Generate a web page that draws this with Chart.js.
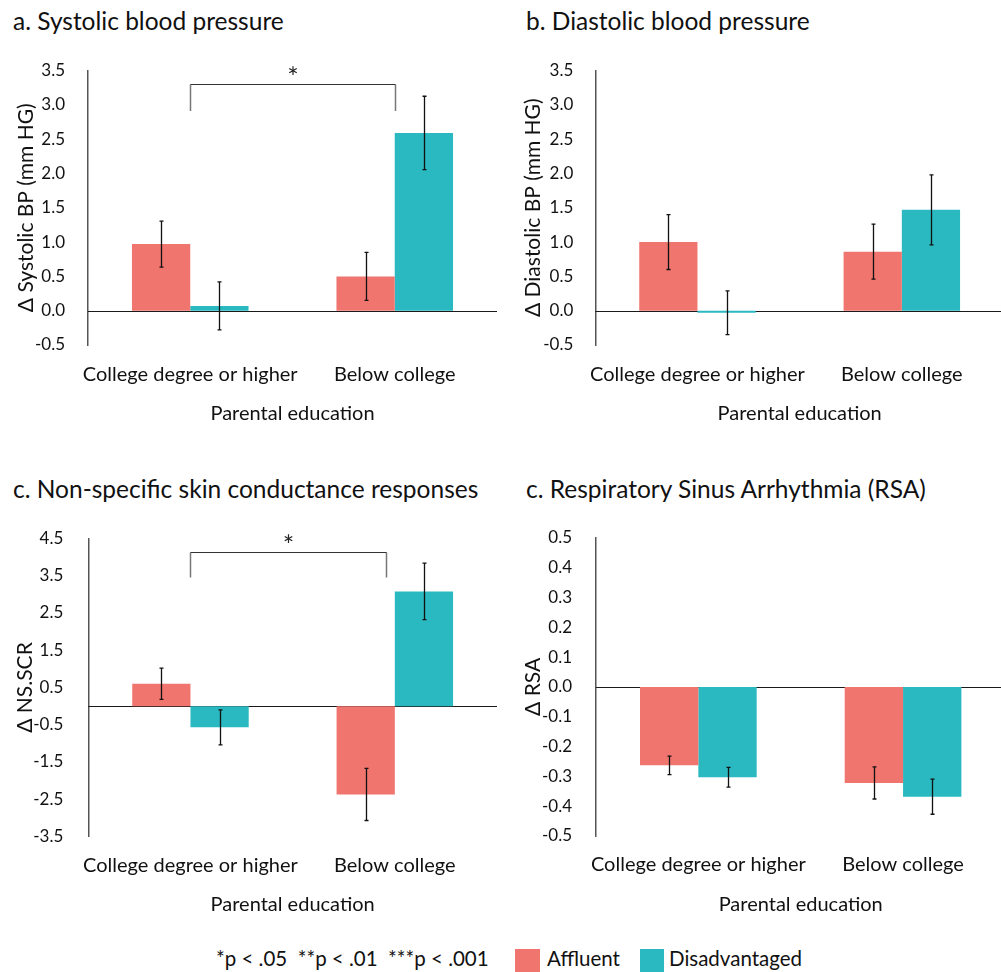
<!DOCTYPE html>
<html>
<head>
<meta charset="utf-8">
<script src="https://cdn.jsdelivr.net/npm/chart.js@4.4.1/dist/chart.umd.min.js"></script>
<style>
  html, body { margin: 0; padding: 0; background: #fff; overflow: hidden; }
  body { width: 1001px; height: 972px; position: relative; font-family: Lato, sans-serif; color: #111; }
  canvas { position: absolute; }
  .title { position: absolute; font-size: 24.5px; line-height: 24px; white-space: nowrap; }
  .leg { position: absolute; font-size: 20.5px; line-height: 20px; white-space: pre; top: 948px; }
  .box { position: absolute; top: 949px; height: 24px; }
</style>
</head>
<body>
<div class="title" style="left:13px; top:9px">a. Systolic blood pressure</div>
<div class="title" style="left:526px; top:9px">b. Diastolic blood pressure</div>
<div class="title" style="left:13px; top:477px">c. Non-specific skin conductance responses</div>
<div class="title" style="left:526px; top:477px">c. Respiratory Sinus Arrhythmia (RSA)</div>

<canvas id="sbp" width="500" height="426" style="left:0; top:0"></canvas>
<canvas id="dbp" width="504" height="426" style="left:500px; top:0"></canvas>
<canvas id="scr" width="500" height="447" style="left:0; top:470px"></canvas>
<canvas id="rsa" width="506" height="447" style="left:500px; top:470px"></canvas>

<div class="leg" style="left:216px">*p &lt; .05  **p &lt; .01  ***p &lt; .001</div>
<div class="box" style="left:515px; width:25px; background:#F0756E"></div>
<div class="leg" style="left:547px">Affluent</div>
<div class="box" style="left:640px; width:24px; background:#2AB9C1"></div>
<div class="leg" style="left:669px">Disadvantaged</div>

<script>
const categories = ['College degree or higher', 'Below college'];
const groups = ['Affluent', 'Disadvantaged'];
const xTitle = 'Parental education';

// a. systolic
const sbpAffluent = [0.97, 0.50];
const sbpAffluentErr = [0.335, 0.35];
const sbpDisadv = [0.07, 2.59];
const sbpDisadvErr = [0.35, 0.535];
const sbpBracket = [0, 1, 3.30, 2.91];   // from cat, to cat, top value, leg end value

// b. diastolic
const dbpAffluent = [1.00, 0.86];
const dbpAffluentErr = [0.40, 0.40];
const dbpDisadv = [-0.03, 1.47];
const dbpDisadvErr = [0.32, 0.51];

// c. NS.SCR
const scrAffluent = [0.60, -2.37];
const scrAffluentErr = [0.42, 0.70];
const scrDisadv = [-0.57, 3.08];
const scrDisadvErr = [0.47, 0.76];
const scrBracket = [0, 0.955, 4.15, 3.45];

// d. RSA
const rsaAffluent = [-0.263, -0.322];
const rsaAffluentErr = [0.031, 0.054];
const rsaDisadv = [-0.303, -0.368];
const rsaDisadvErr = [0.033, 0.059];

const AFF = '#F0756E';
const DIS = '#2AB9C1';
const FONT = 'Lato';

// draws the 0 line across the plot (not always a tick)
const zeroLine = {
  id: 'zeroLine',
  beforeDatasetsDraw(chart) {
    const {ctx, chartArea, scales: {y}} = chart;
    const py = Math.round(y.getPixelForValue(0)) + 0.5;
    ctx.save();
    ctx.strokeStyle = '#1a1a1a';
    ctx.lineWidth = 1;
    ctx.beginPath();
    ctx.moveTo(chartArea.left, py);
    ctx.lineTo(chartArea.right, py);
    ctx.stroke();
    ctx.restore();
  }
};

const errorBars = {
  id: 'errorBars',
  afterDatasetsDraw(chart) {
    const {ctx, scales: {y}} = chart;
    ctx.save();
    ctx.strokeStyle = '#111';
    ctx.lineWidth = 1.3;
    chart.data.datasets.forEach((ds, i) => {
      chart.getDatasetMeta(i).data.forEach((bar, j) => {
        const v = ds.data[j], e = ds.errors[j];
        const top = y.getPixelForValue(v + e), bot = y.getPixelForValue(v - e);
        const x = Math.round(bar.x) + 0.5;
        ctx.beginPath();
        ctx.moveTo(x, top); ctx.lineTo(x, bot);
        ctx.moveTo(x - 2, top); ctx.lineTo(x + 2, top);
        ctx.moveTo(x - 2, bot); ctx.lineTo(x + 2, bot);
        ctx.stroke();
      });
    });
    ctx.restore();
  }
};

const bracket = {
  id: 'bracket',
  afterDraw(chart, args, opts) {
    const b = opts.values;
    if (!b) return;
    const {ctx, scales: {x, y}} = chart;
    const x1 = Math.round(x.getPixelForValue(b[0])) + 0.5;
    const x2 = Math.round(x.getPixelForValue(b[1])) + 0.5;
    const yt = Math.round(y.getPixelForValue(b[2])) + 0.5;
    const yb = y.getPixelForValue(b[3]);
    ctx.save();
    ctx.strokeStyle = '#777';
    ctx.lineWidth = 1.5;
    ctx.beginPath();
    ctx.moveTo(x1, yt); ctx.lineTo(x1, yb);
    ctx.moveTo(x2, yt); ctx.lineTo(x2, yb);
    ctx.stroke();
    ctx.strokeStyle = '#333';
    ctx.lineWidth = 1;
    ctx.beginPath();
    ctx.moveTo(x1, yt); ctx.lineTo(x2, yt);
    ctx.stroke();
    ctx.fillStyle = '#222';
    ctx.font = '27px ' + FONT;
    ctx.textAlign = 'center';
    ctx.textBaseline = 'middle';
    ctx.fillText('*', (x1 + x2) / 2, yt - 6);
    ctx.restore();
  }
};

function makePanel(id, p) {
  return new Chart(document.getElementById(id), {
    type: 'bar',
    data: {
      labels: categories,
      datasets: [
        { label: groups[0], data: p.aff, errors: p.affErr, backgroundColor: AFF,
          categoryPercentage: 0.57, barPercentage: 1.0 },
        { label: groups[1], data: p.dis, errors: p.disErr, backgroundColor: DIS,
          categoryPercentage: 0.57, barPercentage: 1.0 }
      ]
    },
    options: {
      responsive: false,
      animation: false,
      layout: { padding: { top: p.padTop, right: p.padRight, left: 0, bottom: 0 } },
      plugins: {
        legend: { display: false },
        tooltip: { enabled: false },
        bracket: { values: p.bracket || null }
      },
      scales: {
        x: {
          grid: { display: false },
          border: { display: false },
          ticks: { padding: p.xPad, color: '#111', font: { family: FONT, size: 20 },
                   maxRotation: 0, minRotation: 0, autoSkip: false },
          title: { display: true, text: xTitle, color: '#111', padding: 0,
                   font: { family: FONT, size: 20 } },
          afterFit: s => { s.height = p.xHeight; }
        },
        y: {
          min: p.min, max: p.max,
          grid: { display: false },
          border: { display: true, color: '#555', width: 1.5 },
          ticks: {
            stepSize: p.step, padding: p.yPad, color: '#111',
            font: { family: FONT, size: 17 },
            callback: v => (Math.abs(v) < 1e-9 ? 0 : v).toFixed(1)
          },
          title: { display: true, text: p.yTitle, color: '#111',
                   padding: { top: p.yTitlePad, bottom: 0 },
                   font: { family: FONT, size: 21 } },
          afterFit: s => { s.width = p.yWidth; }
        }
      }
    },
    plugins: [zeroLine, errorBars, bracket]
  });
}

makePanel('sbp', {
  aff: sbpAffluent, affErr: sbpAffluentErr, dis: sbpDisadv, disErr: sbpDisadvErr,
  bracket: sbpBracket, min: -0.5, max: 3.5, step: 0.5,
  yTitle: 'Δ Systolic BP (mm HG)',
  padTop: 70.5, padRight: 3, xPad: 10, xHeight: 81, yWidth: 88, yPad: 15, yTitlePad: 13.9
});
makePanel('dbp', {
  aff: dbpAffluent, affErr: dbpAffluentErr, dis: dbpDisadv, disErr: dbpDisadvErr,
  min: -0.5, max: 3.5, step: 0.5,
  yTitle: 'Δ Diastolic BP (mm HG)',
  padTop: 70.5, padRight: 0, xPad: 10, xHeight: 81, yWidth: 95.3, yPad: 14, yTitlePad: 20.9
});
makePanel('scr', {
  aff: scrAffluent, affErr: scrAffluentErr, dis: scrDisadv, disErr: scrDisadvErr,
  bracket: scrBracket, min: -3.5, max: 4.5, step: 1,
  yTitle: 'Δ NS.SCR',
  padTop: 68.5, padRight: 3, xPad: 9.5, xHeight: 80.5, yWidth: 88.3, yPad: 17, yTitlePad: 12.9
});
makePanel('rsa', {
  aff: rsaAffluent, affErr: rsaAffluentErr, dis: rsaDisadv, disErr: rsaDisadvErr,
  min: -0.5, max: 0.5, step: 0.1,
  yTitle: 'Δ RSA',
  padTop: 67.8, padRight: 0.6, xPad: 9, xHeight: 81, yWidth: 96, yPad: 16, yTitlePad: 20.4
});
</script>
</body>
</html>
